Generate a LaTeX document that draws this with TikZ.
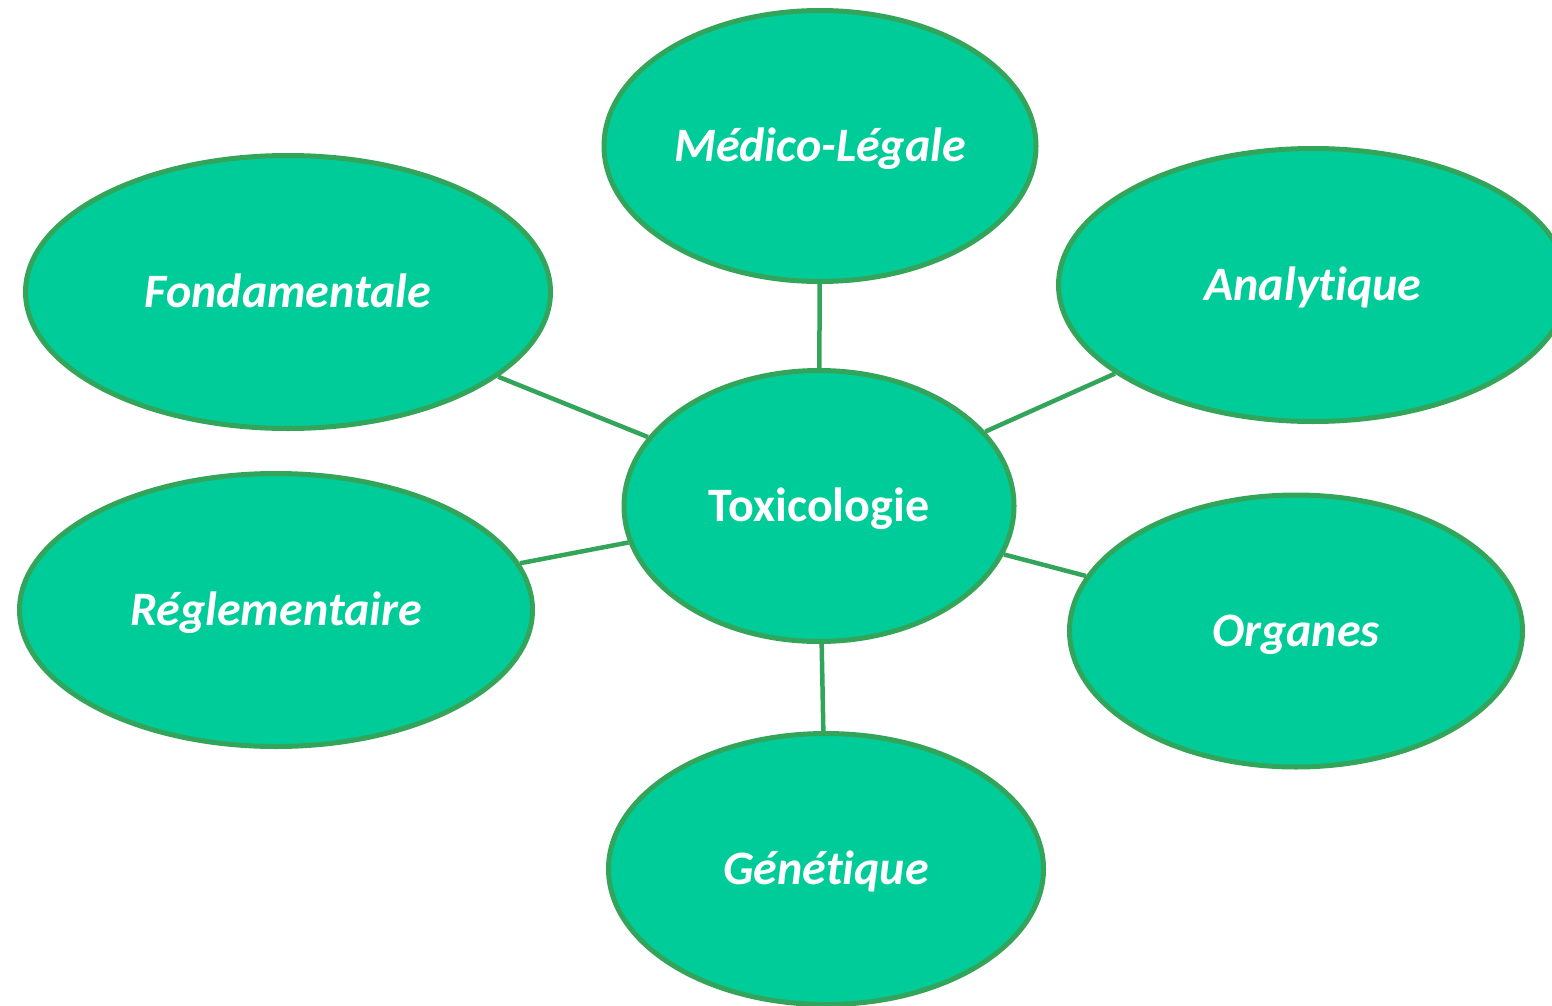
\documentclass[tikz,border=0pt]{standalone}
\usepackage{fontspec}
\setmainfont[RawFeature=-liga]{Carlito}
\usetikzlibrary{shapes.geometric}
\definecolor{bubblefill}{HTML}{00CC99}
\definecolor{bubbleline}{HTML}{33A55A}
\tikzset{
  bubble/.style={ellipse, draw=bubbleline, line width=5pt, fill=bubblefill,
    text=white, inner sep=0pt, text height=40pt, text depth=10pt,
    font=\fontsize{48}{56}\selectfont\bfseries\itshape},
  hub/.style={bubble, font=\fontsize{48}{56}\selectfont\bfseries},
  link/.style={draw=bubbleline, line width=4.5pt}
}
\begin{document}
\begin{tikzpicture}[x=1pt,y=-1pt]
\useasboundingbox (0,0) rectangle (1552,1006);
\begin{scope}
\clip (0,0) rectangle (1552,1006);
\node[hub, minimum width=390pt, minimum height=271pt] (tox) at (819,506) {Toxicologie};
\node[bubble, minimum width=432pt, minimum height=271pt] (med) at (820,146) {Médico-Légale};
\node[bubble, minimum width=525pt, minimum height=273pt] (fond) at (288,292) {Fondamentale};
\node[bubble, minimum width=509pt, minimum height=273pt] (ana) at (1313,285) {Analytique};
\node[bubble, minimum width=513pt, minimum height=273pt] (regl) at (276,610) {Réglementaire};
\node[bubble, minimum width=453pt, minimum height=272pt] (org) at (1296,631) {Organes};
\node[bubble, minimum width=435pt, minimum height=271pt] (gen) at (826,869) {Génétique};
\draw[link] (tox) -- (med);
\draw[link] (tox) -- (fond);
\draw[link] (tox) -- (ana);
\draw[link] (tox) -- (regl);
\draw[link] (tox) -- (org);
\draw[link] (tox) -- (gen);
\end{scope}
\end{tikzpicture}
\end{document}
